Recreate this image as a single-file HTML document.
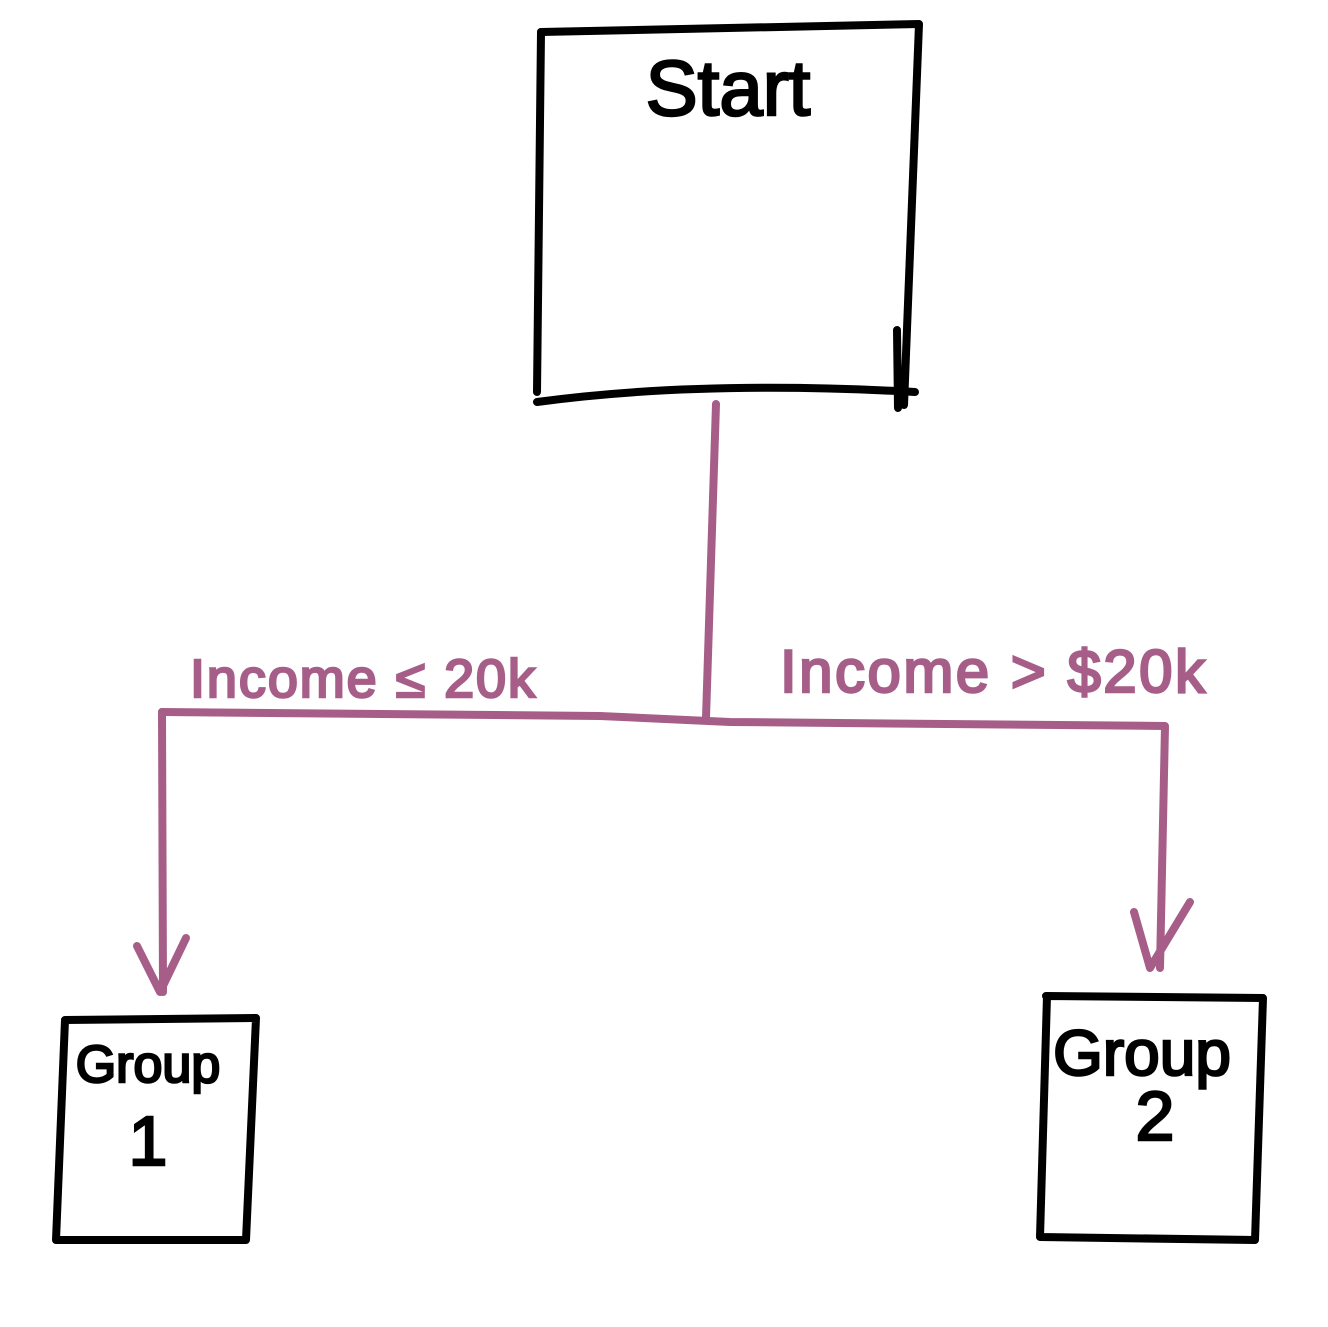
<!DOCTYPE html>
<html><head><meta charset="utf-8"><style>html,body{margin:0;padding:0;background:#fff}svg{display:block}</style></head>
<body>
<svg width="1328" height="1327" viewBox="0 0 1328 1327" xmlns="http://www.w3.org/2000/svg">
<g fill="none" stroke="#000" stroke-width="8" stroke-linecap="round" stroke-linejoin="round">
<path d="M541 32 L919 24 L904 405"/>
<path d="M541 32 L537 392"/>
<path d="M537 402 Q700 380 915 392"/>
<path d="M897 330 L898 408"/>
<path d="M65 1020 L256 1018 L246 1240 L56 1240 L65 1020"/>
<path d="M1046 996 L1263 998 L1255 1240 L1040 1237 L1047 996"/>
</g>
<g fill="none" stroke="#a65e88" stroke-width="8" stroke-linecap="round" stroke-linejoin="round">
<path d="M716 404 L706 718"/>
<path d="M162 712 L600 716 L730 722 L1165 726 L1160 968"/>
<path d="M162 712 L163 992"/>
<path d="M137 946 L160 992 L186 938"/>
<path d="M1134 912 L1150 968 L1190 902"/>
</g>
<g font-family="Liberation Sans, sans-serif" stroke-width="2.5">
<text x="728" y="115" font-size="78" text-anchor="middle" fill="#000" stroke="#000">Start</text>
<text x="148" y="1082" font-size="52" text-anchor="middle" fill="#000" stroke="#000">Group</text>
<text x="148" y="1165" font-size="70" text-anchor="middle" fill="#000" stroke="#000">1</text>
<text x="1142" y="1075" font-size="64" text-anchor="middle" fill="#000" stroke="#000">Group</text>
<text x="1155" y="1140" font-size="70" text-anchor="middle" fill="#000" stroke="#000">2</text>
<text x="190" y="697" font-size="54" fill="#a65e88" stroke="#a65e88" textLength="345">Income ≤ 20k</text>
<text x="780" y="692" font-size="60" fill="#a65e88" stroke="#a65e88" textLength="425">Income &gt; $20k</text>
</g>
</svg>
</body></html>
